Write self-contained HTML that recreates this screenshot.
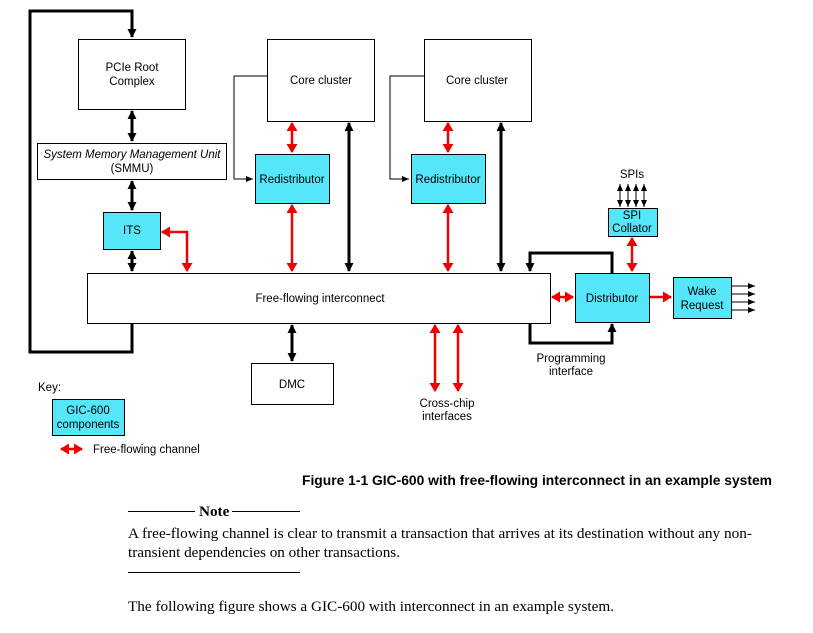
<!DOCTYPE html>
<html><head><meta charset="utf-8"><style>
html,body{margin:0;padding:0;background:#fff;}
svg{display:block;}
text{font-family:"Liberation Sans",Arial,sans-serif;font-size:11.5px;fill:#000;}
.s{font-family:"Liberation Serif","Times New Roman",serif;font-size:15.2px;}
</style></head><body>
<svg width="813" height="633" viewBox="0 0 813 633" xmlns="http://www.w3.org/2000/svg">
<defs>
<marker id="kb" markerUnits="userSpaceOnUse" markerWidth="10" markerHeight="10" refX="8" refY="5" orient="auto-start-reverse"><path d="M0,0.5 L9,5 L0,9.5 Z" fill="#000"/></marker>
<marker id="rb" markerUnits="userSpaceOnUse" markerWidth="10" markerHeight="12" refX="8" refY="6" orient="auto-start-reverse"><path d="M0,0.5 L9,6 L0,11.5 Z" fill="#e00"/></marker>
<marker id="ks" markerUnits="userSpaceOnUse" markerWidth="8" markerHeight="8" refX="7" refY="4" orient="auto-start-reverse"><path d="M0,1 L7,4 L0,7 Z" fill="#000"/></marker>
</defs>
<g fill="none" stroke="#000" stroke-width="1">
<rect x="78.5" y="39.5" width="107" height="70"/>
<rect x="37.5" y="143.5" width="189" height="36"/>
<rect x="267.5" y="39.5" width="107" height="82"/>
<rect x="424.5" y="39.5" width="107" height="82"/>
<rect x="87.5" y="273.5" width="463" height="50"/>
<rect x="251.5" y="363.5" width="82" height="41"/>
</g>
<g fill="#55e6f9" stroke="#000" stroke-width="1">
<rect x="103.5" y="212.5" width="57" height="37"/>
<rect x="255.5" y="154.5" width="74" height="49"/>
<rect x="411.5" y="154.5" width="74" height="49"/>
<rect x="608.5" y="208.5" width="49" height="28"/>
<rect x="575.5" y="273.5" width="74" height="49"/>
<rect x="673.5" y="277.5" width="58" height="41"/>
<rect x="52.5" y="399.5" width="72" height="36"/>
</g>
<g fill="none" stroke="#000" stroke-width="3">
<polyline points="132,323 132,352 30,352 30,11 132,11 132,37" marker-end="url(#kb)"/>
<line x1="132" y1="111" x2="132" y2="141" marker-start="url(#kb)" marker-end="url(#kb)"/>
<line x1="132" y1="181" x2="132" y2="210" marker-start="url(#kb)" marker-end="url(#kb)"/>
<line x1="132" y1="251" x2="132" y2="271" marker-start="url(#kb)" marker-end="url(#kb)"/>
<line x1="349" y1="123" x2="349" y2="271" marker-start="url(#kb)" marker-end="url(#kb)"/>
<line x1="501" y1="123" x2="501" y2="271" marker-start="url(#kb)" marker-end="url(#kb)"/>
<line x1="292" y1="325" x2="292" y2="361" marker-start="url(#kb)" marker-end="url(#kb)"/>
<polyline points="612,273 612,253 530,253 530,271" marker-end="url(#kb)"/>
<polyline points="530,323 530,343 612,343 612,324" marker-end="url(#kb)"/>
</g>
<g fill="none" stroke="#000" stroke-width="1">
<polyline points="267,76 234,76 234,179 253,179" marker-end="url(#ks)"/>
<polyline points="424,76 390,76 390,179 409,179" marker-end="url(#ks)"/>
<line x1="620" y1="184" x2="620" y2="207" marker-start="url(#ks)" marker-end="url(#ks)"/>
<line x1="628" y1="184" x2="628" y2="207" marker-start="url(#ks)" marker-end="url(#ks)"/>
<line x1="636" y1="184" x2="636" y2="207" marker-start="url(#ks)" marker-end="url(#ks)"/>
<line x1="644" y1="184" x2="644" y2="207" marker-start="url(#ks)" marker-end="url(#ks)"/>
<line x1="731" y1="286" x2="755" y2="286" marker-end="url(#ks)"/>
<line x1="731" y1="294" x2="755" y2="294" marker-end="url(#ks)"/>
<line x1="731" y1="302" x2="755" y2="302" marker-end="url(#ks)"/>
<line x1="731" y1="310" x2="755" y2="310" marker-end="url(#ks)"/>
<line x1="128" y1="511.5" x2="195" y2="511.5"/>
<line x1="232" y1="511.5" x2="300" y2="511.5"/>
<line x1="128" y1="572.5" x2="300" y2="572.5"/>
</g>
<g fill="none" stroke="#e00" stroke-width="2.5">
<polyline points="162,232 187,232 187,271" marker-start="url(#rb)" marker-end="url(#rb)"/>
<line x1="292" y1="123" x2="292" y2="152" marker-start="url(#rb)" marker-end="url(#rb)"/>
<line x1="292" y1="205" x2="292" y2="271" marker-start="url(#rb)" marker-end="url(#rb)"/>
<line x1="448" y1="123" x2="448" y2="152" marker-start="url(#rb)" marker-end="url(#rb)"/>
<line x1="448" y1="205" x2="448" y2="271" marker-start="url(#rb)" marker-end="url(#rb)"/>
<line x1="435" y1="325" x2="435" y2="391" marker-start="url(#rb)" marker-end="url(#rb)"/>
<line x1="458" y1="325" x2="458" y2="391" marker-start="url(#rb)" marker-end="url(#rb)"/>
<line x1="552" y1="297" x2="573" y2="297" marker-start="url(#rb)" marker-end="url(#rb)"/>
<line x1="632" y1="238" x2="632" y2="271" marker-start="url(#rb)" marker-end="url(#rb)"/>
<line x1="650" y1="297" x2="671" y2="297" marker-end="url(#rb)"/>
<line x1="61" y1="449" x2="82" y2="449" marker-start="url(#rb)" marker-end="url(#rb)"/>
</g>
<g text-anchor="middle">
<text x="132" y="71">PCIe Root</text>
<text x="132" y="85">Complex</text>
<text x="132" y="158" font-style="italic">System Memory Management Unit</text>
<text x="132" y="172">(SMMU)</text>
<text x="132" y="234">ITS</text>
<text x="321" y="84">Core cluster</text>
<text x="477" y="84">Core cluster</text>
<text x="292" y="183">Redistributor</text>
<text x="448" y="183">Redistributor</text>
<text x="320" y="302">Free-flowing interconnect</text>
<text x="292" y="388">DMC</text>
<text x="447" y="407">Cross-chip</text>
<text x="447" y="420">interfaces</text>
<text x="612" y="302">Distributor</text>
<text x="632" y="178">SPIs</text>
<text x="632" y="219">SPI</text>
<text x="632" y="232">Collator</text>
<text x="702" y="295">Wake</text>
<text x="702" y="309">Request</text>
<text x="571" y="362">Programming</text>
<text x="571" y="375">interface</text>
<text x="88" y="414">GIC-600</text>
<text x="88" y="428">components</text>
</g>
<text x="38" y="391">Key:</text>
<text x="93" y="453">Free-flowing channel</text>
<text x="302" y="485" textLength="470" lengthAdjust="spacingAndGlyphs" style="font-weight:bold;font-size:13.5px">Figure 1-1  GIC-600 with free-flowing interconnect in an example system</text>
<text class="s" x="199" y="516" font-weight="bold">Note</text>
<text class="s" x="128" y="538" textLength="624" lengthAdjust="spacingAndGlyphs">A free-flowing channel is clear to transmit a transaction that arrives at its destination without any non-</text>
<text class="s" x="128" y="557">transient dependencies on other transactions.</text>
<text class="s" x="128" y="611" textLength="486" lengthAdjust="spacingAndGlyphs">The following figure shows a GIC-600 with interconnect in an example system.</text>
</svg>
</body></html>
